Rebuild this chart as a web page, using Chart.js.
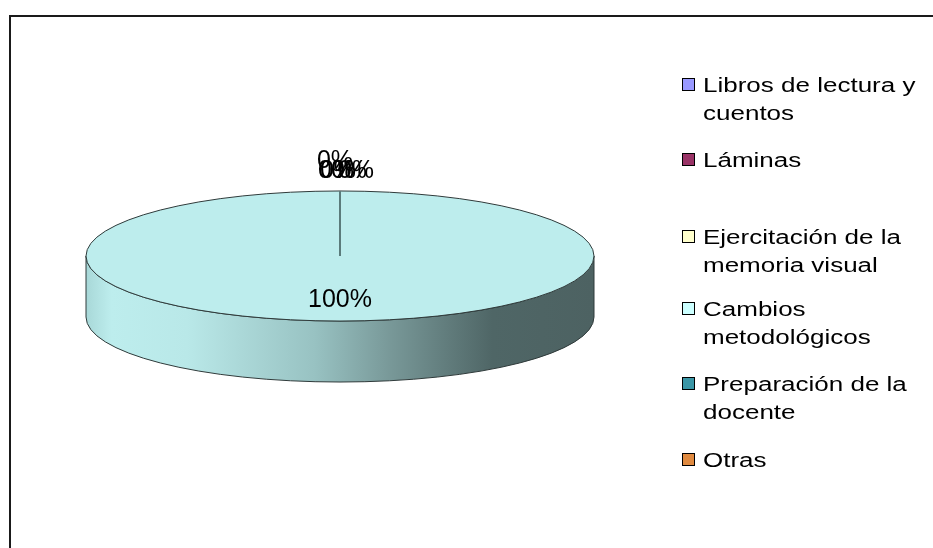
<!DOCTYPE html>
<html>
<head>
<meta charset="utf-8">
<script src="https://cdn.jsdelivr.net/npm/chart.js@4.4.1/dist/chart.umd.min.js"></script>
<style>
  html, body { margin: 0; padding: 0; background: #fff; }
  #wrap { position: relative; width: 933px; height: 548px; overflow: hidden; }
  #frame { position: absolute; left: 9px; top: 15px; width: 1000px; height: 600px;
           border-left: 2px solid #1a1a1a; border-top: 2px solid #1a1a1a; }
  #chart1 { position: absolute; left: 0; top: 0; }
  #legend { position: absolute; left: 682px; top: 0;
            font-family: "Liberation Sans", Arial, sans-serif; font-size: 20px; color: #000; }
  .box { position: absolute; left: 0; width: 11px; height: 11px; border: 1.5px solid #000; }
  .txt { position: absolute; left: 21px; width: 172px; line-height: 28px;
         transform: scaleX(1.3); transform-origin: 0 0; }
</style>
</head>
<body>
<div id="wrap">
  <div id="frame"></div>
  <canvas id="chart1" width="933" height="548"></canvas>
  <div id="legend"></div>
</div>
<script>
const labels = ["Libros de lectura y cuentos", "Láminas", "Ejercitación de la memoria visual",
  "Cambios metodológicos", "Preparación de la docente", "Otras"];
const values = [0, 0, 0, 100, 0, 0];

// legend swatches and the (slightly shaded) top faces
const legendColors = ["#9999FF", "#993366", "#FFFFCC", "#CCFFFF", "#3A96A6", "#E08A40"];
const topColors = ["#8f8fee", "#8f3060", "#eeeebe", "#bdeded", "#348c9a", "#d0803c"];

// layout of the legend (first line centre of each entry)
const legendY = [85, 160, 237, 309, 384, 460];
// where the overlapping 0% labels sit, relative to the top of the pie
const zeroOffsets = [[-5, -30], [-4, -20], [-2, -20], [9, -20], [16, -20]];

const tilt = 0.256;
const depth = 61;

const legend = document.getElementById("legend");
labels.forEach((l, i) => {
  const box = document.createElement("div");
  box.className = "box";
  box.style.top = (legendY[i] - 7) + "px";
  box.style.background = legendColors[i];
  const txt = document.createElement("div");
  txt.className = "txt";
  txt.style.top = (legendY[i] - 14) + "px";
  txt.textContent = l;
  legend.appendChild(box);
  legend.appendChild(txt);
});

const pie3d = {
  id: "pie3d",
  beforeDatasetsDraw(chart) {
    const ctx = chart.ctx;
    const arcs = chart.getDatasetMeta(0).data;
    const x = arcs[0].x, y = arcs[0].y, r = arcs[0].outerRadius;
    const ry = r * tilt;

    const grad = ctx.createLinearGradient(x - r, 0, x + r, 0);
    grad.addColorStop(0, "#a8d8d8");
    grad.addColorStop(0.05, "#bdeded");
    grad.addColorStop(0.2, "#b9e8e8");
    grad.addColorStop(0.45, "#98c2c2");
    grad.addColorStop(0.6, "#789898");
    grad.addColorStop(0.8, "#4f6666");
    grad.addColorStop(1, "#4d6262");

    ctx.save();
    arcs.forEach(arc => {
      if (arc.endAngle - arc.startAngle <= 0) return;
      for (let k = -1; k <= 1; k++) {
        const a0 = Math.max(arc.startAngle, k * 2 * Math.PI);
        const a1 = Math.min(arc.endAngle, k * 2 * Math.PI + Math.PI);
        if (a1 - a0 < 1e-6) continue;
        ctx.beginPath();
        ctx.ellipse(x, y, r, ry, 0, a0, a1);
        ctx.ellipse(x, y + depth, r, ry, 0, a1, a0, true);
        ctx.closePath();
        ctx.fillStyle = grad;
        ctx.fill();
        ctx.lineWidth = 1;
        ctx.strokeStyle = "#2f3a3a";
        ctx.stroke();
      }
    });
    ctx.restore();

    // squash the flat pie into the top face
    ctx.save();
    ctx.translate(0, y);
    ctx.scale(1, tilt);
    ctx.translate(0, -y);
  },
  afterDatasetsDraw(chart) {
    const ctx = chart.ctx;
    ctx.restore();
    const arcs = chart.getDatasetMeta(0).data;
    const x = arcs[0].x, y = arcs[0].y, r = arcs[0].outerRadius;
    const ry = r * tilt;

    ctx.save();
    ctx.beginPath();
    ctx.ellipse(x, y, r, ry, 0, 0, 2 * Math.PI);
    ctx.lineWidth = 1;
    ctx.strokeStyle = "#2f3a3a";
    ctx.stroke();

    // slice edges
    ctx.strokeStyle = "#5b7b7b";
    ctx.lineWidth = 2;
    arcs.forEach((arc, i) => {
      if (values[i] <= 0) return;
      [arc.startAngle, arc.endAngle].forEach(a => {
        ctx.beginPath();
        ctx.moveTo(x, y);
        ctx.lineTo(x + r * Math.cos(a), y + ry * Math.sin(a));
        ctx.stroke();
      });
    });

    // data labels
    const total = values.reduce((s, v) => s + v, 0);
    ctx.fillStyle = "#000";
    ctx.font = '25px "Liberation Sans", Arial, sans-serif';
    ctx.textAlign = "center";
    ctx.textBaseline = "middle";
    let z = 0;
    arcs.forEach((arc, i) => {
      const txt = Math.round(values[i] / total * 100) + "%";
      if (values[i] > 0) {
        const mid = (arc.startAngle + arc.endAngle) / 2;
        ctx.fillText(txt, x + 0.66 * r * Math.cos(mid), y + 0.66 * ry * Math.sin(mid) + 1);
      } else {
        const o = zeroOffsets[z++];
        ctx.fillText(txt, x + o[0], y - ry + o[1]);
      }
    });
    ctx.restore();
  }
};

const data1 = {
  labels: labels,
  datasets: [
    {
      data: values,
      backgroundColor: topColors,
      borderWidth: 0,
    },
  ],
};

const config1 = {
  type: "pie",
  data: data1,
  options: {
    responsive: false,
    animation: false,
    devicePixelRatio: 1,
    events: [],
    layout: { padding: { left: 86, right: 339, top: 2, bottom: 38 } },
    plugins: { legend: { display: false }, tooltip: { enabled: false } },
  },
  plugins: [pie3d],
};
const chart1 = new Chart(document.getElementById("chart1"), config1);
</script>
</body>
</html>
